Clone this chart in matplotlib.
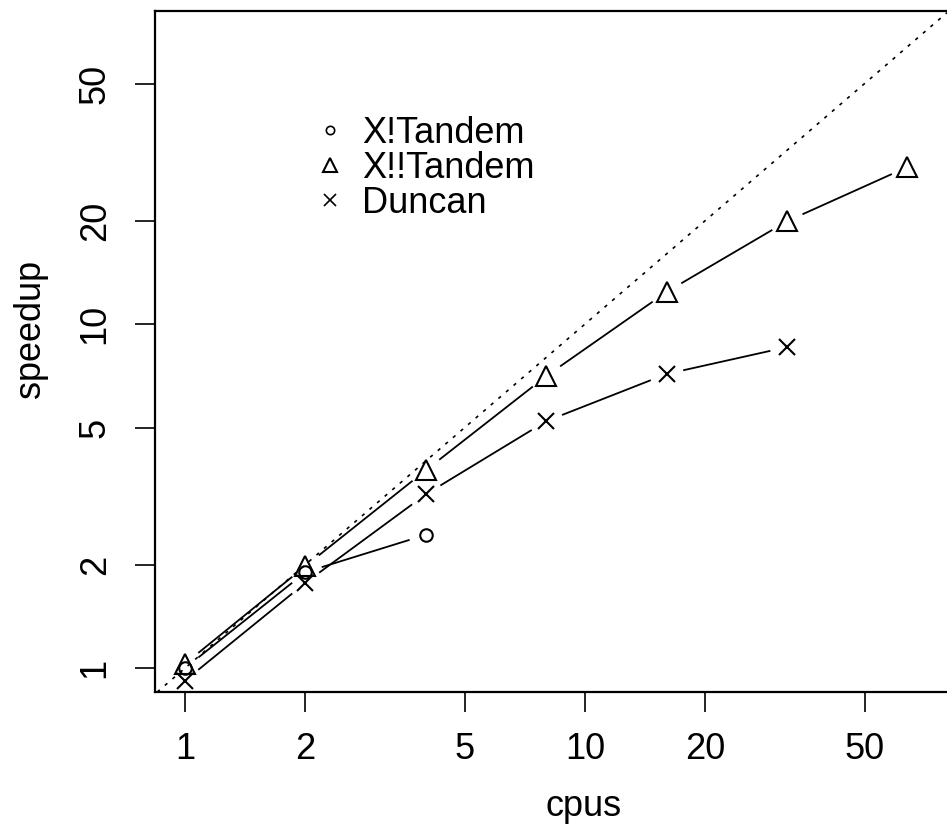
import numpy as np
import matplotlib
matplotlib.use("Agg")
import matplotlib.pyplot as plt
from matplotlib.lines import Line2D

plt.rcParams['font.family'] = ['Liberation Sans', 'DejaVu Sans']

# ---- data ----
cpus_xt = [1, 2, 4]
speed_xt = [1.0, 1.90, 2.44]

cpus_xxt = [1, 2, 4, 8, 16, 32, 64]
speed_xxt = [1.03, 1.98, 3.76, 7.06, 12.4, 19.9, 28.6]

cpus_dun = [1, 2, 4, 8, 16, 32]
speed_dun = [0.92, 1.77, 3.2, 5.22, 7.16, 8.57]

x_ticks = [1, 2, 5, 10, 20, 50]
y_ticks = [1, 2, 5, 10, 20, 50]
labels = ["X!Tandem", "X!!Tandem", "Duncan"]

FS = 26

W, H = 947, 832
fig = plt.figure(figsize=(W / 100, H / 100), dpi=100)
ax = fig.add_axes([155 / W, (H - 692) / H, (W - 155) / W, (692 - 11) / H])
ax.set_xscale('log')
ax.set_yscale('log')
ax.set_xlim(0.841, 80.4)
ax.set_ylim(0.852, 81.3)

for s in ['left', 'bottom', 'top']:
    ax.spines[s].set_linewidth(1.6)
ax.spines['right'].set_visible(False)

ax.xaxis.set_major_locator(matplotlib.ticker.FixedLocator(x_ticks))
ax.yaxis.set_major_locator(matplotlib.ticker.FixedLocator(y_ticks))
ax.xaxis.set_minor_locator(matplotlib.ticker.NullLocator())
ax.yaxis.set_minor_locator(matplotlib.ticker.NullLocator())
ax.set_xticklabels([str(v) for v in x_ticks])
ax.set_yticklabels([str(v) for v in y_ticks])
ax.tick_params(axis='both', direction='out', length=14.5, width=1.2,
               labelsize=FS, pad=14)
for lab in ax.get_yticklabels():
    lab.set_rotation(90)
    lab.set_va('center')
ax.tick_params(axis='y', pad=16)

# reference line y = x
ax.axline((1, 1), (10, 10), color='black', lw=1.2, linestyle=(0, (2, 4)))

fig.canvas.draw()

def draw_b(xs, ys, marker, ms, gap=17):
    pts = ax.transData.transform(np.column_stack([xs, ys]))
    inv = ax.transData.inverted()
    for p0, p1 in zip(pts[:-1], pts[1:]):
        d = p1 - p0
        L = np.hypot(*d)
        if L <= 2 * gap:
            continue
        u = d / L
        a = inv.transform(p0 + u * gap)
        b = inv.transform(p1 - u * gap)
        ax.plot([a[0], b[0]], [a[1], b[1]], color='black', lw=1.3,
                solid_capstyle='butt')
    ax.plot(xs, ys, linestyle='none', marker=marker, ms=ms, mfc='none',
            mec='black', mew=1.5)

draw_b(cpus_xt, speed_xt, 'o', 9)
draw_b(cpus_xxt, speed_xxt, '^', 14)
draw_b(cpus_dun, speed_dun, 'x', 11.5)

handles = [
    Line2D([], [], linestyle='none', marker='o', ms=6, mfc='none', mec='black', mew=1.2),
    Line2D([], [], linestyle='none', marker='^', ms=10, mfc='none', mec='black', mew=1.5),
    Line2D([], [], linestyle='none', marker='x', ms=9, mfc='none', mec='black', mew=1.2),
]
ax.legend(handles, labels, loc='upper left', bbox_to_anchor=(0.1977, 0.846),
          frameon=False, fontsize=FS, handlelength=1.0, handletextpad=0.4,
          borderpad=0, borderaxespad=0, labelspacing=0.0)

ax.set_xlabel('cpus', fontsize=FS)
ax.set_ylabel('speedup', fontsize=FS)
ax.xaxis.label.set_va('center')
ax.yaxis.label.set_va('center')
ax.xaxis.set_label_coords((584 - 155) / 792, (692 - 806) / 681)
ax.yaxis.set_label_coords((30 - 155) / 792, (692 - 329) / 681)

fig.savefig('out.png', dpi=100)
